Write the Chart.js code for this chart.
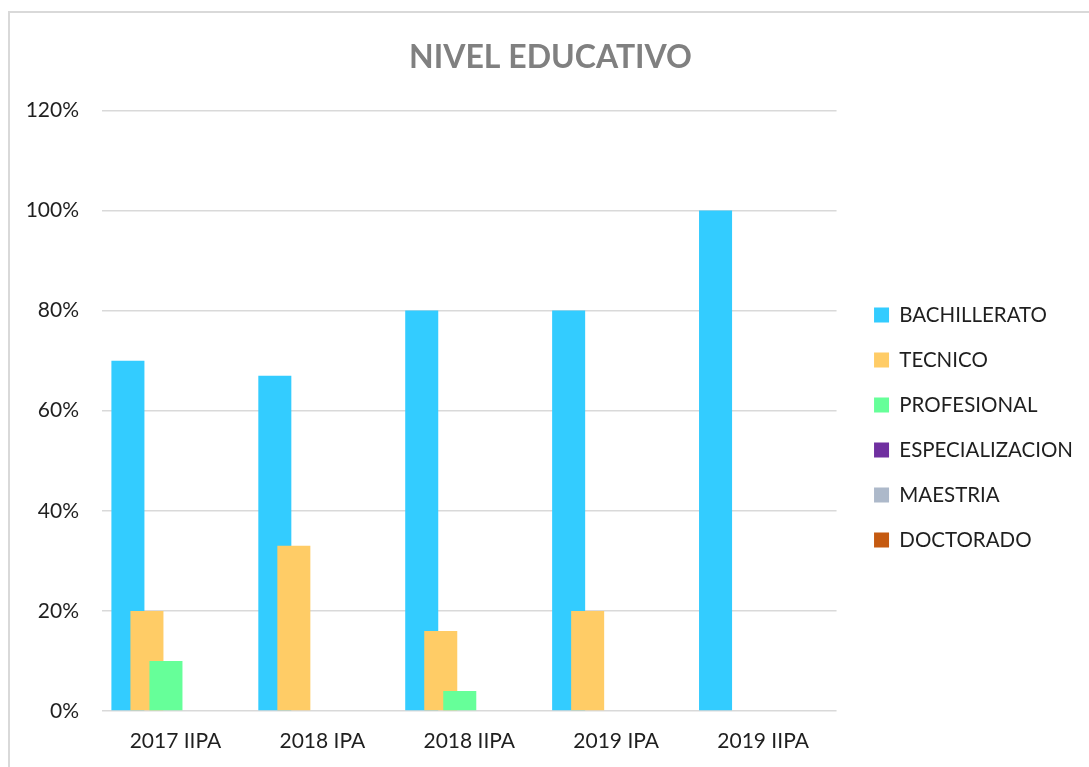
<!DOCTYPE html>
<html>
<head>
<meta charset="utf-8">
<script src="https://cdn.jsdelivr.net/npm/chart.js@4/dist/chart.umd.min.js"></script>
<style>
  html, body { margin: 0; padding: 0; background: #ffffff; overflow: hidden; }
  #frame { position: absolute; left: 8px; top: 11px; width: 1200px; height: 900px; border-left: 2px solid #d9d9d9; border-top: 2px solid #d9d9d9; box-sizing: border-box; }
  #wrap { position: absolute; left: 0; top: 0; width: 1089px; height: 767px; }
</style>
</head>
<body>
<div id="frame"></div>
<div id="wrap"><canvas id="c" width="1089" height="767"></canvas></div>
<script>
const categories = ["2017 IIPA", "2018 IPA", "2018 IIPA", "2019 IPA", "2019 IIPA"];
const seriesNames = ["BACHILLERATO", "TECNICO", "PROFESIONAL", "ESPECIALIZACION", "MAESTRIA", "DOCTORADO"];
const bachillerato = [0.70, 0.67, 0.80, 0.80, 1.00];
const tecnico = [0.20, 0.33, 0.16, 0.20, 0];
const profesional = [0.10, 0, 0.04, 0, 0];
const especializacion = [0, 0, 0, 0, 0];
const maestria = [0, 0, 0, 0, 0];
const doctorado = [0, 0, 0, 0, 0];
const yTicks = [0, 0.2, 0.4, 0.6, 0.8, 1.0, 1.2];

const seriesValues = [bachillerato, tecnico, profesional, especializacion, maestria, doctorado];
const colors = ["#33CCFF", "#FFCC66", "#66FF99", "#7030A0", "#ADB9CA", "#C55A11"];

const FONT = "Lato, 'Open Sans', sans-serif";
const TEXT = "#1f1f1f";

const forwardDraw = {
  id: 'forwardDraw',
  afterLayout(chart) {
    // centre the title on the (wider) chart frame, as in the original
    if (chart.titleBlock) { chart.titleBlock.left += 9; chart.titleBlock.right += 9; }
  },
  beforeDatasetsDraw(chart) {
    const n = chart.data.datasets.length;
    for (let i = 0; i < n; i++) {
      if (chart.isDatasetVisible(i)) chart.getDatasetMeta(i).controller.draw();
    }
    return false;
  }
};

new Chart(document.getElementById('c'), {
  type: 'bar',
  data: {
    labels: categories,
    datasets: seriesNames.map((name, i) => ({
      label: name,
      data: seriesValues[i],
      backgroundColor: colors[i],
      borderWidth: 0,
      categoryPercentage: 0.7766,
      barPercentage: 1.737
    }))
  },
  options: {
    responsive: false,
    animation: false,
    devicePixelRatio: 1,
    layout: { padding: { left: 0, right: 6, top: 0, bottom: 0 } },
    plugins: {
      title: {
        display: true,
        text: "NIVEL EDUCATIVO",
        color: "#808080",
        font: { family: FONT, size: 32, weight: 'bold' },
        padding: { top: 38, bottom: 34 }
      },
      legend: {
        position: 'right',
        align: 'center',
        maxWidth: 400,
        title: { display: true, text: ' ', font: { size: 10 }, padding: { top: 38, bottom: 38 } },
        labels: {
          boxWidth: 15,
          boxHeight: 15,
          padding: 24.5,
          color: TEXT,
          font: { family: FONT, size: 20.5 }
        }
      },
      tooltip: { enabled: false }
    },
    scales: {
      x: {
        grid: { display: false, drawTicks: false },
        border: { display: false },
        afterFit: (scale) => { scale.height = 56; },
        ticks: { color: TEXT, font: { family: FONT, size: 21 }, padding: 18 }
      },
      y: {
        min: 0,
        max: 1.2,
        afterBuildTicks: (scale) => { scale.ticks = yTicks.map(v => ({ value: v })); },
        afterFit: (scale) => { scale.width = 102; },
        grid: { color: "#d9d9d9", lineWidth: 1.5, drawTicks: false },
        border: { display: false },
        ticks: {
          color: TEXT,
          font: { family: FONT, size: 21 },
          padding: 23,
          callback: (v) => Math.round(v * 100) + "%"
        }
      },
      spacer: {
        position: 'right',
        display: true,
        grid: { display: false, drawTicks: false },
        border: { display: false },
        ticks: { display: false },
        afterFit: (scale) => { scale.width = 13; }
      }
    }
  },
  plugins: [forwardDraw]
});
</script>
</body>
</html>
